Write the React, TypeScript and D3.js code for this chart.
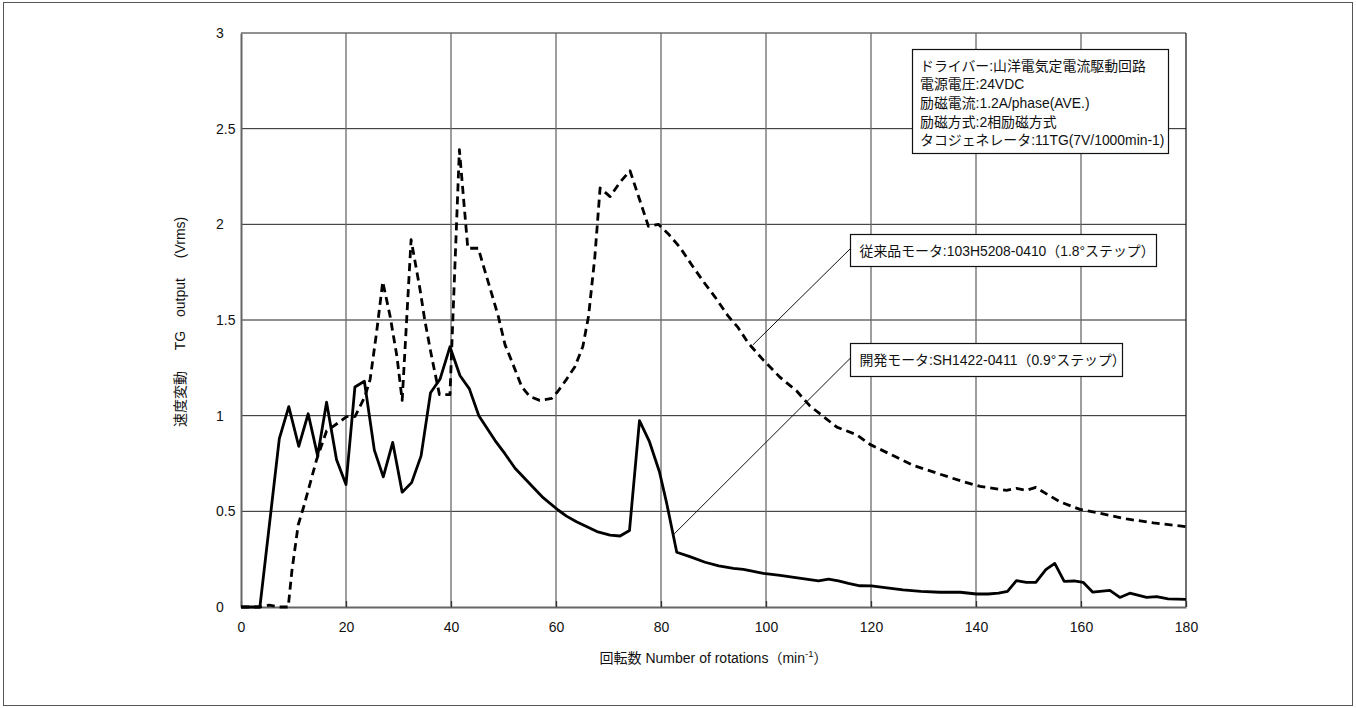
import { useEffect, useRef } from 'react';
import * as d3 from 'd3';

// 開発モータ SH1422-0411 (solid)
const devX = [0, 1.8, 3.6, 7.3, 9.1, 11.0, 12.8, 14.6, 16.3, 18.2, 20.0, 21.7, 23.5, 25.4, 27.1, 28.9, 30.7, 32.5, 34.3, 36.1, 37.9, 39.8, 41.7, 43.5, 45.3, 48.4, 50.3, 52.2, 54.1, 56.0, 57.6, 60.4, 62.0, 63.9, 66.0, 67.8, 70.3, 72.2, 74.0, 75.9, 77.8, 79.7, 81.1, 83.0, 85.5, 88.4, 91.0, 93.8, 95.7, 99.5, 102.7, 106.0, 110.0, 111.9, 113.8, 115.7, 117.9, 120.1, 122.3, 126.1, 129.5, 133.1, 137.0, 140.1, 142.3, 144.3, 146.0, 147.7, 149.6, 151.4, 153.3, 155.0, 156.8, 158.7, 160.4, 162.2, 165.5, 167.4, 169.3, 172.5, 174.4, 176.6, 180];
const devY = [0, 0, 0, 0.88, 1.047, 0.84, 1.01, 0.79, 1.07, 0.77, 0.64, 1.15, 1.18, 0.82, 0.68, 0.86, 0.6, 0.65, 0.79, 1.12, 1.19, 1.36, 1.21, 1.14, 1.0, 0.87, 0.8, 0.725, 0.67, 0.615, 0.57, 0.507, 0.475, 0.446, 0.418, 0.394, 0.376, 0.371, 0.4, 0.974, 0.864, 0.707, 0.54, 0.286, 0.263, 0.234, 0.215, 0.202, 0.197, 0.176, 0.165, 0.152, 0.136, 0.146, 0.137, 0.124, 0.111, 0.11, 0.103, 0.089, 0.082, 0.077, 0.077, 0.068, 0.068, 0.072, 0.082, 0.138, 0.129, 0.129, 0.195, 0.228, 0.134, 0.136, 0.129, 0.078, 0.087, 0.05, 0.072, 0.05, 0.054, 0.042, 0.04];

// 従来品モータ 103H5208-0410 (dashed)
const oldX = [0, 3.6, 5.4, 7.2, 9.0, 9.7, 10.9, 11.9, 12.8, 14.4, 16.3, 18.9, 20.1, 21.7, 23.6, 24.6, 25.8, 27.0, 28.4, 29.7, 30.7, 32.4, 34.1, 35.0, 36.3, 37.8, 39.8, 41.6, 43.2, 45.2, 46.2, 47.4, 49.0, 50.3, 51.2, 53.5, 55.0, 56.9, 59.2, 60.3, 62.0, 63.6, 65.1, 66.2, 67.4, 68.4, 70.3, 72.2, 74.1, 77.6, 79.5, 81.4, 83.6, 85.8, 88.1, 90.3, 92.8, 94.7, 96.6, 99.5, 102.7, 105.8, 108.4, 113.5, 117.3, 119.8, 124.3, 128.1, 132.5, 137.0, 140.8, 145.8, 147.7, 149.6, 151.4, 153.5, 156.0, 159.8, 163.6, 168.7, 173.8, 180];
const oldY = [0, 0, 0.01, 0, 0, 0.19, 0.43, 0.52, 0.61, 0.77, 0.92, 0.97, 0.995, 0.995, 1.1, 1.19, 1.43, 1.7, 1.52, 1.31, 1.08, 1.92, 1.66, 1.5, 1.31, 1.11, 1.11, 2.39, 1.875, 1.875, 1.78, 1.67, 1.52, 1.37, 1.31, 1.15, 1.1, 1.08, 1.09, 1.125, 1.19, 1.256, 1.36, 1.52, 1.83, 2.19, 2.145, 2.22, 2.28, 1.99, 2.0, 1.95, 1.88, 1.79, 1.7, 1.62, 1.52, 1.46, 1.38, 1.29, 1.2, 1.13, 1.05, 0.94, 0.9, 0.85, 0.79, 0.74, 0.7, 0.66, 0.63, 0.61, 0.62, 0.61, 0.625, 0.59, 0.55, 0.51, 0.49, 0.46, 0.44, 0.42];

const xTicks = [0, 20, 40, 60, 80, 100, 120, 140, 160, 180];
const yTicks = [0, 0.5, 1, 1.5, 2, 2.5, 3];

const infoLines = [
  'ドライバー:山洋電気定電流駆動回路',
  '電源電圧:24VDC',
  '励磁電流:1.2A/phase(AVE.)',
  '励磁方式:2相励磁方式',
  'タコジェネレータ:11TG(7V/1000min-1)',
];
const oldLabel = '従来品モータ:103H5208-0410（1.8°ステップ）';
const devLabel = '開発モータ:SH1422-0411（0.9°ステップ）';
// y title pieces, bottom to top
const yTitleParts = ['速度変動', 'TG', 'output', '(Vrms)'];

const FONT = '"Liberation Sans", Arial, "Noto Sans CJK JP", sans-serif';

const App = () => {
  const ref = useRef<SVGSVGElement>(null);

  useEffect(() => {
    if (!ref.current) return;
    const svg = d3.select(ref.current);
    svg.selectAll('*').remove();

    const margin = { top: 33, left: 241, right: 170, bottom: 101 };
    const W = 1356;
    const H = 708;

    const x = d3.scaleLinear().domain([0, 180]).range([margin.left, W - margin.right]);
    const y = d3.scaleLinear().domain([0, 3]).range([H - margin.bottom, margin.top]);

    svg.append('rect')
      .attr('x', 3.5).attr('y', 2.5)
      .attr('width', W - 7).attr('height', H - 5)
      .attr('fill', '#fff').attr('stroke', '#555').attr('stroke-width', 1);

    // grid
    svg.append('g').selectAll('line')
      .data(yTicks.filter(d => d > 0))
      .enter().append('line')
      .attr('x1', x(0)).attr('x2', x(180))
      .attr('y1', d => y(d)).attr('y2', d => y(d))
      .attr('stroke', '#222').attr('stroke-width', 1);
    svg.append('g').selectAll('line')
      .data(xTicks.filter(d => d > 0))
      .enter().append('line')
      .attr('x1', d => x(d)).attr('x2', d => x(d))
      .attr('y1', y(0)).attr('y2', y(3))
      .attr('stroke', d => (d === 180 ? '#111' : '#6a6a6a')).attr('stroke-width', d => (d === 180 ? 1.2 : 1.3));

    // axes
    const xAxis = svg.append('g')
      .attr('transform', `translate(0,${y(0)})`)
      .call(d3.axisBottom(x).tickValues(xTicks).tickSizeInner(-6).tickSizeOuter(0).tickPadding(15));
    xAxis.select('.domain').attr('stroke', '#666').attr('stroke-width', 2);
    xAxis.selectAll('.tick line').attr('stroke', '#333').attr('stroke-width', 1.3);
    xAxis.selectAll('text').attr('font-family', FONT).attr('font-size', 14).attr('fill', '#111');

    const yAxis = svg.append('g')
      .attr('transform', `translate(${x(0)},0)`)
      .call(d3.axisLeft(y).tickValues(yTicks).tickFormat(d => String(d)).tickSize(0).tickPadding(25));
    yAxis.select('.domain').attr('stroke', '#666').attr('stroke-width', 2);
    yAxis.selectAll('text')
      .attr('text-anchor', 'start')
      .attr('x', -25)
      .attr('font-family', FONT).attr('font-size', 14).attr('fill', '#111');

    // series
    const line = d3.line<[number, number]>()
      .x(d => x(d[0]))
      .y(d => y(d[1]));

    const oldData = oldX.map((v, i) => [v, oldY[i]] as [number, number]);
    const devData = devX.map((v, i) => [v, devY[i]] as [number, number]);

    svg.append('path')
      .datum(oldData)
      .attr('d', line)
      .attr('fill', 'none')
      .attr('stroke', '#000')
      .attr('stroke-width', 2.8)
      .attr('stroke-dasharray', '8,5')
      .attr('stroke-linejoin', 'round');

    svg.append('path')
      .datum(devData)
      .attr('d', line)
      .attr('fill', 'none')
      .attr('stroke', '#000')
      .attr('stroke-width', 2.8)
      .attr('stroke-linejoin', 'round');

    // info box
    svg.append('rect')
      .attr('x', 912.5).attr('y', 49.5).attr('width', 256).attr('height', 104)
      .attr('fill', '#fff').attr('stroke', '#111').attr('stroke-width', 1.2);
    svg.append('g').selectAll('text')
      .data(infoLines)
      .enter().append('text')
      .attr('x', 920)
      .attr('y', (_, i) => 65.5 + i * 18.7)
      .attr('dominant-baseline', 'central')
      .attr('font-family', FONT).attr('font-size', 13.9).attr('fill', '#111')
      .text(d => d);

    // callouts
    const callouts = [
      { label: oldLabel, ax: 97.5, ay: 1.37, bx: 850.5, by: 234.5, bw: 306, bh: 32 },
      { label: devLabel, ax: 82.3, ay: 0.376, bx: 850.5, by: 343.5, bw: 272, bh: 33 },
    ];
    callouts.forEach(c => {
      svg.append('line')
        .attr('x1', x(c.ax)).attr('y1', y(c.ay))
        .attr('x2', c.bx).attr('y2', c.by + c.bh / 2 - 2)
        .attr('stroke', '#111').attr('stroke-width', 1);
      svg.append('rect')
        .attr('x', c.bx).attr('y', c.by).attr('width', c.bw).attr('height', c.bh)
        .attr('fill', '#fff').attr('stroke', '#111').attr('stroke-width', 1.2);
      svg.append('text')
        .attr('x', c.bx + 9).attr('y', c.by + c.bh / 2)
        .attr('dominant-baseline', 'central')
        .attr('font-family', FONT).attr('font-size', 13.9).attr('fill', '#111')
        .text(c.label);
    });

    // axis titles
    const xt = svg.append('text')
      .attr('x', (x(0) + x(180)) / 2)
      .attr('y', 663)
      .attr('text-anchor', 'middle')
      .attr('font-family', FONT).attr('font-size', 14).attr('fill', '#111');
    xt.append('tspan').text('回転数 Number of rotations（min');
    xt.append('tspan').attr('font-size', 9.5).attr('dy', -6).text('-1');
    xt.append('tspan').attr('dy', 6).text('）');

    const yCenters = [399, 340.5, 297.5, 237.5];
    svg.append('g').selectAll('text')
      .data(yTitleParts)
      .enter().append('text')
      .attr('transform', (_, i) => `translate(180,${yCenters[i]}) rotate(-90)`)
      .attr('text-anchor', 'middle')
      .attr('dominant-baseline', 'central')
      .attr('font-family', FONT).attr('font-size', 14).attr('fill', '#111')
      .text(d => d);
  }, []);

  return (
    <svg
      ref={ref}
      width={1356}
      height={708}
      style={{ position: 'absolute', left: 0, top: 0, display: 'block', background: '#fff' }}
    />
  );
};

export default App;
